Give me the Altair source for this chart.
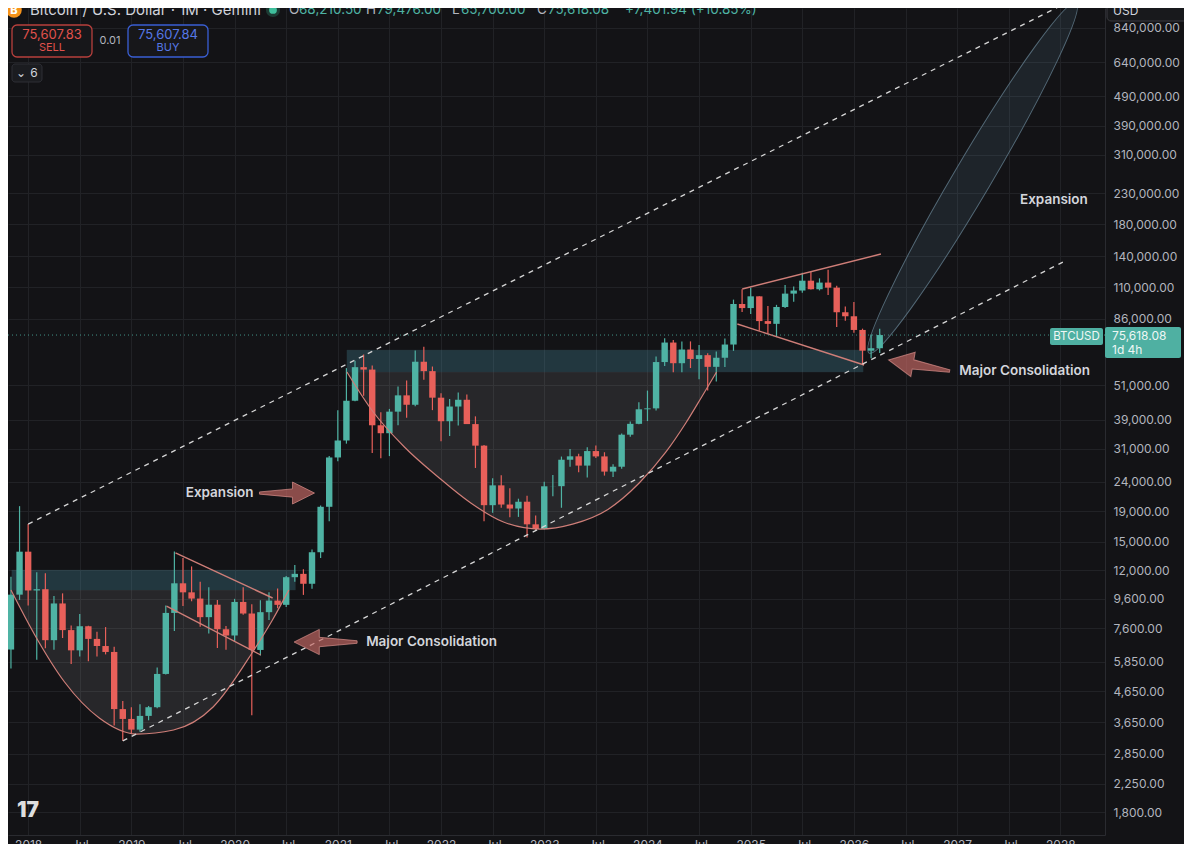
import altair as alt
import numpy as np
import pandas as pd

# ---------------- candle data (BTCUSD monthly, Gemini) ----------------
MONTHS = [str(p) for p in pd.period_range("2017-11", "2026-04", freq="M")]
OPEN = [6440, 9900, 13860, 10230, 10330, 6930, 9240, 7500, 6400, 7730, 7000, 6620, 6320, 4040,
        3740, 3440, 3830, 4100, 5320, 8580, 10820, 10080, 9600, 8300, 9150, 7550,
        7190, 9350, 8540, 6420, 8630, 9450, 9140, 11350, 11650, 10780, 13800, 19700,
        28990, 33110, 45200, 58800, 57700, 37300, 35050, 41500, 47150, 43800, 61350, 57000,
        46300, 38500, 43200, 45550, 37650, 31800, 19950, 23300, 20050, 19430, 20500, 17170,
        16550, 23130, 23150, 28480, 29250, 27200, 30480, 29230, 25950, 26960, 34650, 37720,
        42280, 42580, 61200, 71300, 60650, 67500, 62700, 64600, 58950, 63300, 70200, 96450,
        93400, 102400, 84350, 82550, 94200, 104600, 107150, 115750, 108250, 114050, 109600, 90400,
        87600, 78700, 66900, 68210.50]
HIGH = [11400, 19800, 17200, 11800, 11700, 9800, 10000, 7780, 8500, 7760, 7400, 7680, 6580, 4300,
        4100, 4200, 4140, 5600, 9100, 13880, 13200, 12350, 10950, 10500, 9500, 7750,
        9580, 10500, 9180, 9480, 10080, 10380, 11450, 12480, 12080, 14100, 19900, 29300,
        41950, 58350, 61800, 64900, 59600, 41300, 42400, 50500, 52950, 67000, 69000, 59100,
        47900, 45800, 48200, 47450, 40000, 31950, 24650, 25200, 22800, 20990, 21480, 18400,
        23950, 25250, 29200, 31000, 29850, 31400, 31850, 30200, 27500, 35000, 38400, 44700,
        48950, 63900, 73800, 72800, 71950, 71950, 70000, 65600, 66500, 73600, 99800, 108300,
        109500, 102500, 95000, 95800, 112000, 110500, 123200, 124450, 117900, 126200, 111200, 94600,
        98000, 79500, 76000, 79476.00]
LOW = [5550, 9500, 9100, 5950, 6500, 6430, 7050, 5750, 6100, 5880, 6100, 6200, 3550, 3150,
       3350, 3380, 3700, 4070, 5300, 7450, 9050, 9400, 7700, 7300, 6520, 6430,
       6850, 8450, 3850, 6150, 8120, 8900, 8980, 10950, 9880, 10370, 13200, 17600,
       28130, 32300, 45000, 47000, 30000, 28800, 29300, 37300, 39600, 43300, 53250, 42000,
       32900, 34300, 37200, 37700, 26700, 17600, 18800, 19550, 18150, 18200, 15500, 16300,
       16500, 21400, 19550, 26950, 25800, 24800, 28850, 25150, 24900, 26550, 34100, 37600,
       38550, 41900, 59300, 56500, 56550, 58400, 53500, 49000, 52550, 58900, 66800, 90500,
       89200, 78200, 76600, 74400, 93400, 98200, 105300, 108000, 107250, 103500, 80600, 84500,
       77000, 59800, 63000, 65700.00]
CLOSE = [9900, 13860, 10230, 10330, 6930, 9240, 7500, 6400, 7730, 7000, 6620, 6320, 4040, 3740,
         3440, 3830, 4100, 5320, 8580, 10820, 10080, 9600, 8300, 9150, 7550, 7190,
         9350, 8540, 6420, 8630, 9450, 9140, 11350, 11650, 10780, 13800, 19700, 28990,
         33110, 45200, 58800, 57700, 37300, 35050, 41500, 47150, 43800, 61350, 57000, 46300,
         38500, 43200, 45550, 37650, 31800, 19950, 23300, 20050, 19430, 20500, 17170, 16550,
         23130, 23150, 28480, 29250, 27200, 30480, 29230, 25950, 26960, 34650, 37720, 42280,
         42580, 61200, 71300, 60650, 67500, 62700, 64600, 58950, 63300, 70200, 96450, 93400,
         102400, 84350, 82550, 94200, 104600, 107150, 115750, 108250, 114050, 109600, 90400, 87600,
         78700, 66900, 68210.50, 75618.08]

LAST_PRICE = 75618.08

# y-axis tick labels (price scale)
Y_TICKS = [840000, 640000, 490000, 390000, 310000, 230000, 180000, 140000, 110000, 86000,
           51000, 39000, 31000, 24000, 19000, 15000, 12000, 9600, 7600, 5850, 4650, 3650,
           2850, 2250, 1800]
X_TICKS = list(range(0, 121, 6))  # months since Jan 2018

# ---------------- drawings (bar index = months since Jan 2018, price) ----------------
CHAN_M1 = [0.0, 11.0]
CHAN_P1 = [17200, 3150]
CHAN_M2 = [120.92, 120.77]
CHAN_P2 = [1026600, 136100]

FLAG_M1 = [17.13, 16.09, 83.02, 82.45]
FLAG_P1 = [13720, 9057, 108460, 82440]
FLAG_M2 = [28.42, 27.04, 99.14, 97.19]
FLAG_P2 = [9643, 6171, 142650, 59790]

BOX_M1 = [-1.9, 37.06]
BOX_M2 = [31.07, 97.07]
BOX_LO = [10260, 56600]
BOX_HI = [12000, 67240]

CUP1_M = [-2.0, 0.77, 4.23, 8.27, 12.64, 16.9, 21.5, 26.1, 28.4, 30.3]
CUP1_P = [10260, 7220, 4995, 3767, 3323, 3430, 4107, 6318, 8117, 10260]
CUP1_TOP = 10260
CUP2_M = [37.06, 39.94, 43.74, 47.66, 51.46, 55.26, 59.52, 63.3, 67.4, 71.04, 74.15, 76.46, 78.3, 80.03]
CUP2_P = [56600, 42040, 31470, 24880, 20290, 17480, 16550, 17200, 19300, 23730, 30260, 37970, 46550, 56600]
CUP2_TOP = 56600

ELL_M = [109.8]
ELL_P = [258700]
ELL_LEN = [407]
ELL_ANGLE = [30.6]

ARROW_M = [30.09, 34.58, 103.58]
ARROW_P = [21940, 6831, 59570]
ARROW_ANGLE = [0, 180, 190.2]
ARROW_LEN = [55, 63, 62]

LABEL_TEXT = ["Expansion", "Major Consolidation", "Expansion", "Major Consolidation"]
LABEL_M = [22.26, 46.9, 119.25, 115.85]
LABEL_P = [21940, 6831, 217800, 57060]

# ---------------- style ----------------
BG = "#131316"
GRID = "#212226"
UP = "#4fb3a4"
DOWN = "#e8605a"
SALMON = "#cf7e78"
AXIS_TXT = "#b2b5be"
FONT = "Inter"

W, H = 1097, 827
X_DOMAIN = [-1.762, 124.61]
Y_DOMAIN = [1507, 979500]

xs = alt.Scale(domain=X_DOMAIN, nice=False, zero=False)
ys = alt.Scale(type="log", domain=Y_DOMAIN, nice=False)

x_axis = alt.Axis(values=X_TICKS, title=None, grid=True, gridColor=GRID, ticks=False,
                  domainColor="#2a2b30", labelColor=AXIS_TXT, labelFont=FONT, labelFontSize=12,
                  labelPadding=4, labelBaseline="top", labelFlush=False, labelOverlap=False,
                  labelExpr="datum.value % 12 == 0 ? '' + (2018 + datum.value / 12) : 'Jul'")
y_axis = alt.Axis(values=Y_TICKS, orient="right", title=None, format=",.2f", grid=True,
                  gridColor=GRID, ticks=False, domainColor="#2a2b30", labelColor=AXIS_TXT,
                  labelFont=FONT, labelFontSize=12, labelPadding=8, labelAlign="left",
                  labelFlush=False, labelOverlap=False)


def X(field):
    return alt.X(field, type="quantitative", scale=xs, axis=x_axis)


def Y(field):
    return alt.Y(field, type="quantitative", scale=ys, axis=y_axis)


# ---------------- tables ----------------
def month_index(s):
    y, mo = s.split("-")
    return (int(y) - 2018) * 12 + int(mo) - 1


candles = pd.DataFrame({"month": MONTHS, "open": OPEN, "high": HIGH, "low": LOW, "close": CLOSE})
candles["m"] = candles["month"].map(month_index)
candles["dir"] = np.where(candles["close"] >= candles["open"], "up", "down")

chan = pd.DataFrame({"m1": CHAN_M1, "p1": CHAN_P1, "m2": CHAN_M2, "p2": CHAN_P2})
flags = pd.DataFrame({"m1": FLAG_M1, "p1": FLAG_P1, "m2": FLAG_M2, "p2": FLAG_P2})
boxes = pd.DataFrame({"m1": BOX_M1, "m2": BOX_M2, "lo": BOX_LO, "hi": BOX_HI})
cups = pd.concat([
    pd.DataFrame({"cup": "a", "m": CUP1_M, "p": CUP1_P, "top": CUP1_TOP}),
    pd.DataFrame({"cup": "b", "m": CUP2_M, "p": CUP2_P, "top": CUP2_TOP}),
])
ell = pd.DataFrame({"m": ELL_M, "p": ELL_P, "size": [v * v for v in ELL_LEN], "angle": ELL_ANGLE})
arrows = pd.DataFrame({"m": ARROW_M, "p": ARROW_P, "angle": ARROW_ANGLE,
                       "size": [v * v for v in ARROW_LEN]})
labels = pd.DataFrame({"t": LABEL_TEXT, "m": LABEL_M, "p": LABEL_P})
last = pd.DataFrame({"p": [LAST_PRICE]})
one = pd.DataFrame({"a": [0]})

color = alt.Color("dir:N", scale=alt.Scale(domain=["up", "down"], range=[UP, DOWN]), legend=None)

ELLIPSE_PATH = "M 0 -1 A 0.092 1 0 0 1 0 1 A 0.092 1 0 0 1 0 -1 Z"
ARROW_PATH = "M -1 -0.04 L 0.2 -0.15 L 0.2 -0.4 L 1 0 L 0.2 0.4 L 0.2 0.15 L -1 0.04 Z"

# ---------------- layers ----------------
box_layer = alt.Chart(boxes).mark_rect(color="#4f9fb4", opacity=0.26, stroke="#5c8f9c",
                                       strokeWidth=1, strokeOpacity=0.35, clip=True).encode(
    x=X("m1"), x2="m2", y=Y("lo"), y2="hi")

cup_fill = alt.Chart(cups).mark_area(color="#ffffff", opacity=0.085, interpolate="monotone",
                                     clip=True).encode(
    x=X("m"), y=Y("p"), y2="top", detail="cup:N")

cup_line = alt.Chart(cups).mark_line(color=SALMON, strokeWidth=1.2, interpolate="monotone",
                                     clip=True).encode(
    x=X("m"), y=Y("p"), detail="cup:N")

ell_layer = alt.Chart(ell).mark_point(shape=ELLIPSE_PATH, filled=True, color="#6a9ab5",
                                      opacity=1, fillOpacity=0.13, stroke="#5d7585",
                                      strokeWidth=1, strokeOpacity=0.85).encode(
    x=X("m"), y=Y("p"), size=alt.Size("size:Q", scale=None),
    angle=alt.Angle("angle:Q", scale=None))

wicks = alt.Chart(candles).mark_rule(strokeWidth=1.2, clip=True).encode(
    x=X("m"), y=Y("low"), y2="high", color=color)
bodies = alt.Chart(candles).mark_bar(size=6.4, clip=True).encode(
    x=X("m"), y=Y("open"), y2="close", color=color)

flag_layer = alt.Chart(flags).mark_rule(color=SALMON, strokeWidth=1.4, clip=True).encode(
    x=X("m1"), y=Y("p1"), x2="m2", y2="p2")

chan_layer = alt.Chart(chan).mark_rule(color="#d6d6d6", strokeWidth=1.3, strokeDash=[5, 5],
                                       clip=True).encode(
    x=X("m1"), y=Y("p1"), x2="m2", y2="p2")

price_line = alt.Chart(last).mark_rule(color=UP, strokeWidth=1, strokeDash=[1, 3],
                                       opacity=0.8).encode(
    y=Y("p"), x=alt.value(0), x2=alt.value(W))

arrow_layer = alt.Chart(arrows).mark_point(shape=ARROW_PATH, filled=True, color="#c86a66",
                                           opacity=1, fillOpacity=0.66, stroke="#d88f8a",
                                           strokeWidth=1, strokeOpacity=0.7).encode(
    x=X("m"), y=Y("p"), size=alt.Size("size:Q", scale=None),
    angle=alt.Angle("angle:Q", scale=None))

label_layer = alt.Chart(labels).mark_text(font=FONT, fontSize=13.5, fontWeight=600,
                                          color="#d4d6dc", align="center",
                                          baseline="middle").encode(
    x=X("m"), y=Y("p"), text="t:N")


# ---------------- UI chrome (page pixels minus the 8px page margin) ----------------
def rect(x1, y1, x2, y2, **kw):
    return alt.Chart(one).mark_rect(**kw).encode(
        x=alt.value(x1 - 8), x2=alt.value(x2 - 8), y=alt.value(y1 - 8), y2=alt.value(y2 - 8))


def text(x, y, s, **kw):
    kw.setdefault("font", FONT)
    kw.setdefault("baseline", "middle")
    return alt.Chart(one).mark_text(text=s, **kw).encode(x=alt.value(x - 8), y=alt.value(y - 8))


def dot(x, y, size, col):
    return alt.Chart(one).mark_point(filled=True, shape="circle", size=size, color=col,
                                     opacity=1).encode(x=alt.value(x - 8), y=alt.value(y - 8))


chrome = [
    dot(14, 10, 240, "#f7931a"),
    text(14, 10.5, "B", fontSize=11, fontWeight=800, color="#ffffff", align="center"),
    text(30, 10, "Bitcoin / U.S. Dollar · 1M · Gemini", fontSize=15, color="#d1d4dc", align="left"),
    dot(273, 10, 200, "#1d3b34"),
    dot(273, 10, 60, "#3fbf9c"),
    text(289, 10, "O", fontSize=13.5, color=AXIS_TXT, align="left"),
    text(299, 10, "68,210.50", fontSize=13.5, color=UP, align="left"),
    text(366, 10, "H", fontSize=13.5, color=AXIS_TXT, align="left"),
    text(377, 10, "79,476.00", fontSize=13.5, color=UP, align="left"),
    text(452, 10, "L", fontSize=13.5, color=AXIS_TXT, align="left"),
    text(461, 10, "65,700.00", fontSize=13.5, color=UP, align="left"),
    text(537, 10, "C", fontSize=13.5, color=AXIS_TXT, align="left"),
    text(548, 10, "75,618.08", fontSize=13.5, color=UP, align="left"),
    text(625, 10, "+7,401.94 (+10.85%)", fontSize=13.5, color=UP, align="left"),
    rect(12, 25, 92, 57, fill="#17171a", stroke="#b8403d", strokeWidth=1.3, cornerRadius=5),
    text(52, 35, "75,607.83", fontSize=13, color="#e0514c", align="center"),
    text(52, 48, "SELL", fontSize=11, color="#e0514c", align="center"),
    text(110, 41, "0.01", fontSize=11, color=AXIS_TXT, align="center"),
    rect(128, 25, 208, 57, fill="#17171a", stroke="#3a5fd4", strokeWidth=1.3, cornerRadius=5),
    text(168, 35, "75,607.84", fontSize=13, color="#5677e6", align="center"),
    text(168, 48, "BUY", fontSize=11, color="#5677e6", align="center"),
    rect(12, 64, 42, 82, fill="#1b1c20", stroke="#2e2f35", strokeWidth=1, cornerRadius=3),
    text(21, 73, "⌄", fontSize=12, color="#d1d4dc", align="center", font="DejaVu Sans"),
    text(34, 73, "6", fontSize=12, color="#d1d4dc", align="center"),
    # price labels
    rect(1050, 328, 1103, 345, fill="#4fb0a2", cornerRadius=2),
    text(1076.5, 336.5, "BTCUSD", fontSize=11.5, color="#eef7f5", align="center"),
    rect(1105, 327, 1181, 358, fill="#4fb0a2", cornerRadius=2),
    text(1112, 336, "75,618.08", fontSize=12, color="#eef7f5", align="left"),
    text(1112, 350, "1d 4h", fontSize=12, color="#eef7f5", align="left"),
    # currency box
    rect(1107, 0, 1197, 21, fill="#18191c", stroke="#3a3b40", strokeWidth=1, cornerRadius=4),
    text(1113, 11, "USD", fontSize=12, color="#d1d4dc", align="left"),
    # logo
    text(28, 811, "17", fontSize=21, fontWeight=900, color="#dedede", align="center"),
]

chart = alt.layer(
    box_layer, cup_fill, ell_layer, wicks, bodies, cup_line, flag_layer, chan_layer,
    price_line, arrow_layer, label_layer, *chrome
).properties(
    width=W, height=H, autosize="none",
    padding={"left": 0, "top": 0, "right": 79, "bottom": 9},
    background=BG,
).configure_view(stroke=None)

chart.save("out.html", embed_options={"renderer": "svg", "actions": False})
